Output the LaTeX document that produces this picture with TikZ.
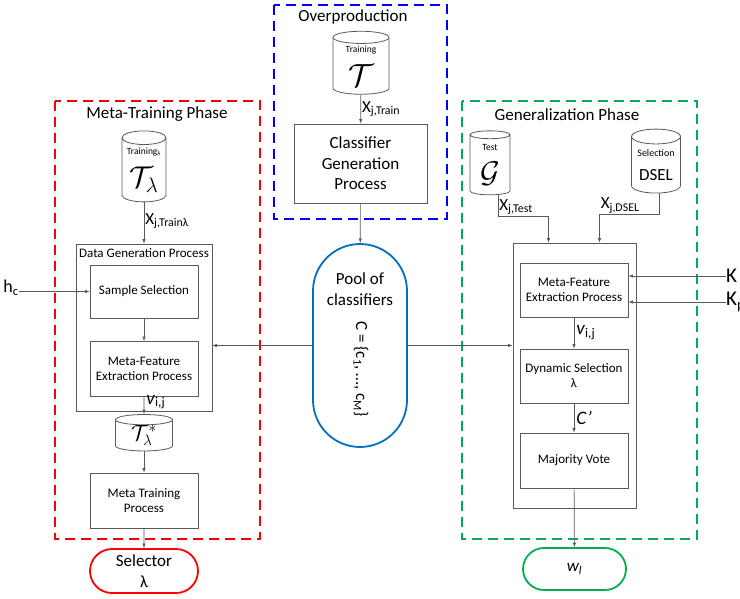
\RequirePackage{fix-cm}
\documentclass[tikz,border=0pt]{standalone}
\usepackage{fontspec}
\setmainfont{Carlito}
\usepackage{xcolor}
\usepackage{tikz}
\usetikzlibrary{arrows.meta,positioning,calc,shapes.geometric,shapes.misc}

\definecolor{phred}{RGB}{255,0,0}
\definecolor{phblue}{RGB}{0,0,255}
\definecolor{phgreen}{RGB}{0,176,80}
\definecolor{poolblue}{RGB}{0,112,192}
\definecolor{edge}{RGB}{89,89,89}

\begin{document}
\begin{tikzpicture}[x=1pt,y=-1pt,
    phase/.style={line width=2.4pt, dash pattern=on 10pt off 6pt},
    proc/.style={draw=edge, line width=0.8pt, minimum width=108pt, minimum height=55pt,
      inner sep=2pt, align=center, font=\fontsize{13}{15}\selectfont},
    outer/.style={draw=edge, line width=0.8pt, inner sep=0pt},
    db/.style={cylinder, shape border rotate=90, aspect=0.4, draw=edge, line width=0.8pt,
      inner sep=0pt},
    term/.style={rounded rectangle, line width=1.8pt, inner sep=0pt, align=center,
      font=\fontsize{17}{20.5}\selectfont},
    flow/.style={draw=edge, line width=0.7pt, -{Latex[length=4.5pt,width=3.5pt]}},
    big/.style={font=\fontsize{17}{20.5}\selectfont},
    xlbl/.style={font=\fontsize{17}{20}\selectfont, inner sep=1pt},
    vlbl/.style={font=\fontsize{19}{20}\selectfont, inner sep=0pt}]

  \useasboundingbox (0,0) rectangle (740,598);

  \draw[phase, phblue] (274,5) rectangle (447,219);
  \draw[phase, phred] (55,101) rectangle (260,539);
  \draw[phase, phgreen] (462,101) rectangle (697,539);
  \node[big] (ovt) at (353,17) {Overproduction};
  \node[big] (mtt) at (157,114) {Meta-Training Phase};
  \node[big] (gnt) at (567,115) {Generalization Phase};

  % overproduction
  \node[db, minimum width=56pt, minimum height=63pt] (trn) at (361,66)
    {\shortstack{{\fontsize{9.5}{10}\selectfont Training}\\[7pt]{\fontsize{32}{32}\selectfont$\mathcal{T}$}}};
  \node[proc, minimum width=133pt, minimum height=79pt, font=\fontsize{17}{20.5}\selectfont] (cgp)
    at (360.5,163.5) {Classifier\\Generation\\Process};
  \draw[flow] (trn) -- node[right, xlbl] {X\textsubscript{j,Train}} (cgp);

  % pool
  \node[draw=poolblue, line width=1.8pt, rounded corners=47pt, minimum width=94pt,
    minimum height=203pt] (pool) at (360,345.5) {};
  \node[big, align=center] (poolt) at (360,289) {Pool of\\classifiers};
  \node[big, rotate=-90] (poolc) at (361,369) {C = \{c\textsubscript{1}, …, c\textsubscript{M}\}};
  \draw[flow] (cgp) -- (pool);

  % meta-training
  \node[db, minimum width=44pt, minimum height=71pt] (trnl) at (144,170)
    {\shortstack{{\fontsize{9.5}{10}\selectfont Training\textsubscript{λ}}\\[8pt]{\fontsize{30}{30}\selectfont$\mathcal{T}_\lambda$}}};
  \node[outer, minimum width=136pt, minimum height=167pt] (dgp) at (144,327.5) {};
  \node[font=\fontsize{13}{15}\selectfont] (dgpt) at (144,253) {Data Generation Process};
  \node[proc, minimum height=53pt] (ss) at (144,291.5) {Sample Selection};
  \node[proc] (mfl) at (144,369) {Meta-Feature\\Extraction Process};
  \node[db, minimum width=57pt, minimum height=35pt] (tstar) at (144,435.5)
    {\raisebox{-4pt}{\fontsize{22}{22}\selectfont$\mathcal{T}_\lambda^*$}};
  \node[proc] (mtp) at (144,500.5) {Meta Training\\Process};
  \node[term, draw=phred, minimum width=108pt, minimum height=44pt] (sel) at (144,571) {Selector\\λ};
  \node[font=\fontsize{18}{20}\selectfont, inner sep=0pt] (hc) at (11,288) {h\textsubscript{c}};

  \draw[flow] (trnl) -- node[right, xlbl, pos=0.45] {X\textsubscript{j,Trainλ}} (dgp);
  \draw[flow] (ss.west -| hc.east) -- (ss.west);
  \draw[flow] (ss) -- (mfl);
  \draw[flow] (mfl) -- node[right, vlbl, pos=0.3, xshift=2pt] {\textit{v}\textsubscript{i,j}} (tstar);
  \draw[flow] (tstar) -- (mtp);
  \draw[flow] (mtp) -- (sel);
  \draw[flow] (pool.west) -- (pool.west -| dgp.east);

  % generalization
  \node[db, minimum width=40pt, minimum height=64pt] (tst) at (490,165)
    {\shortstack{{\fontsize{9.5}{10}\selectfont Test}\\[8pt]{\fontsize{30}{30}\selectfont$\mathcal{G}$}}};
  \node[db, minimum width=49pt, minimum height=64pt] (dsel) at (656,165)
    {\shortstack{{\fontsize{10}{11}\selectfont Selection}\\[10pt]{\fontsize{17}{18}\selectfont DSEL}}};
  \node[outer, minimum width=123pt, minimum height=265pt] (gen) at (574.5,375.5) {};
  \node[proc, minimum height=54pt] (mfr) at (574,290) {Meta-Feature\\Extraction Process};
  \node[proc, minimum height=54pt] (dyn) at (574,376) {Dynamic Selection\\λ};
  \node[proc] (maj) at (574,460.5) {Majority Vote};
  \node[term, draw=phgreen, minimum width=103pt, minimum height=42pt] (wl) at (574.5,569)
    {\textit{w\textsubscript{l}}};
  \node[font=\fontsize{21}{22}\selectfont, inner sep=0pt, anchor=west] (k) at (726,276) {K};
  \node[font=\fontsize{21}{22}\selectfont, inner sep=0pt, anchor=west] (kp) at (726,302) {K\textsubscript{p}};

  \draw[flow] ([xshift=8pt]tst.south) -- ++(0,21) node[above right, xlbl] {X\textsubscript{j,Test}}
    -| ([xshift=-26pt]gen.north);
  \draw[flow] ([xshift=3pt]dsel.south) -- ++(0,21)
    -| node[pos=0.5, above right, xlbl] {X\textsubscript{j,DSEL}} ([xshift=25pt]gen.north);
  \draw[flow] (k.west) -- (k.west -| mfr.east);
  \draw[flow] (kp.west) -- (kp.west -| mfr.east);
  \draw[flow] (mfr) -- node[right, vlbl, xshift=2pt] {\textit{v}\textsubscript{i,j}} (dyn);
  \draw[flow] (dyn) -- node[right, vlbl, xshift=2pt] {\textit{C’}} (maj);
  \draw[flow] (maj) -- (wl);
  \draw[flow] (pool.east) -- (pool.east -| gen.west);
\end{tikzpicture}
\end{document}
